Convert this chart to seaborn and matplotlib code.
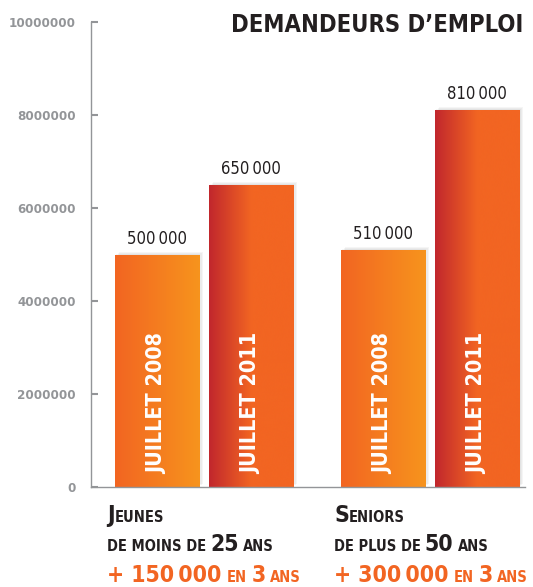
import matplotlib
matplotlib.use("Agg")
import numpy as np
import pandas as pd
import seaborn as sns
import matplotlib.pyplot as plt
from matplotlib import patheffects as pe
from matplotlib.colors import LinearSegmentedColormap

# ── Données ───────────────────────────────────────────────────
groupes = ["Jeunes", "Jeunes", "Seniors", "Seniors"]
periodes = ["JUILLET 2008", "JUILLET 2011", "JUILLET 2008", "JUILLET 2011"]
demandeurs = [500000, 650000, 510000, 810000]
etiquettes = ["500\u2009000", "650\u2009000", "510\u2009000", "810\u2009000"]

ytick_vals = [0, 200000, 400000, 600000, 800000, 1000000]
ytick_labels = ["0", "2000000", "4000000", "6000000", "8000000", "10000000"]

titre = "DEMANDEURS D\u2019EMPLOI"
# (texte, grand?, orange?, espace avant en px)
legende_jeunes = [
    [("J", True, False, 0), ("EUNES", False, False, 0)],
    [("DE MOINS DE", False, False, 0), ("25", True, False, 4), ("ANS", False, False, 4)],
    [("+ 150\u2009000", True, True, 0), ("EN", False, True, 5), ("3", True, True, 5), ("ANS", False, True, 4)],
]
legende_seniors = [
    [("S", True, False, 0), ("ENIORS", False, False, 0)],
    [("DE PLUS DE", False, False, 0), ("50", True, False, 4), ("ANS", False, False, 4)],
    [("+ 300\u2009000", True, True, 0), ("EN", False, True, 5), ("3", True, True, 5), ("ANS", False, True, 4)],
]

ORANGE = "#F26522"
JAUNE = "#F7941D"
ROUGE = "#C1272D"
NOIR = "#231F20"
GRIS = "#939598"

sns.set_style("white")
plt.rcParams["font.family"] = ["DejaVu Sans"]
plt.rcParams["font.stretch"] = "condensed"

W, H = 533, 587
fig = plt.figure(figsize=(W / 100, H / 100), dpi=100)
ax = fig.add_axes([91 / W, 100 / H, (525 - 91) / W, 465 / H])

df = pd.DataFrame({"groupe": groupes, "periode": periodes, "demandeurs": demandeurs})
sns.barplot(data=df, x="groupe", y="demandeurs", hue="periode",
            palette=[JAUNE, ORANGE], saturation=1, width=0.832, gap=0.106,
            legend=False, ax=ax, linewidth=0)

# ── Dégradés + ombre ──────────────────────────────────────────
cmaps = [
    LinearSegmentedColormap.from_list("g08", [ORANGE, JAUNE]),
    LinearSegmentedColormap.from_list("g11", [(0, ROUGE), (0.5, ORANGE), (1, ORANGE)]),
]
grad = np.linspace(0, 1, 256).reshape(1, -1)
shadow = [pe.SimplePatchShadow(offset=(k, k * 0.7), shadow_rgbFace="#808080", alpha=0.08)
          for k in (1, 2, 3)] + [pe.Normal()]

for i, cont in enumerate(ax.containers):
    for j, bar in enumerate(cont):
        bar.set_path_effects(shadow)
        x0, y0 = bar.get_x(), bar.get_y()
        im = ax.imshow(grad, extent=[x0, x0 + bar.get_width(), y0, y0 + bar.get_height()],
                       aspect="auto", cmap=cmaps[i], zorder=bar.get_zorder() + 0.1,
                       interpolation="bicubic")
        im.set_clip_path(bar)
        xc = x0 + bar.get_width() / 2
        ax.annotate(periodes[i], xy=(xc, 0), xytext=(0, 9), textcoords="offset points",
                    rotation=90, ha="center", va="bottom", color="white",
                    fontsize=15.5, fontweight="bold", zorder=5)
        k = 2 * j + i
        ax.annotate(etiquettes[k], xy=(xc, bar.get_height()), xytext=(0, 5),
                    textcoords="offset points", ha="center", va="bottom",
                    color=NOIR, fontsize=12, zorder=5)

ax.set_xlim(-0.5, 1.42)
ax.set_ylim(0, 1000000)

# ── Axes ──────────────────────────────────────────────────────
ax.set_xlabel("")
ax.set_ylabel("")
ax.set_xticks([])
ax.set_yticks(ytick_vals, ytick_labels)
for lbl in ax.get_yticklabels():
    lbl.set_fontweight("bold")
ax.tick_params(axis="y", direction="in", length=5, width=1.5, color=GRIS,
               labelcolor=GRIS, labelsize=9.5, pad=11, left=True)
sns.despine(ax=ax)
for s in ("left", "bottom"):
    ax.spines[s].set_color(GRIS)
    ax.spines[s].set_linewidth(1)

# ── Titre ─────────────────────────────────────────────────────
fig.text(523 / W, 1 - 32 / H, titre, ha="right", va="baseline",
         fontsize=17, fontweight="bold", color=NOIR)

# ── Légendes sous les barres ──────────────────────────────────
renderer = fig.canvas.get_renderer()


def rich_line(x_px, base_px, parts):
    x = x_px
    for txt, big, orange, gap in parts:
        x += gap
        t = fig.text(x / W, 1 - base_px / H, txt, ha="left", va="baseline",
                     fontsize=16.5 if big else 10.5, fontweight="bold",
                     color=ORANGE if orange else NOIR)
        x = t.get_window_extent(renderer).x1


for x_px, lignes in [(107, legende_jeunes), (334, legende_seniors)]:
    for base_px, parts in zip([522, 551, 582], lignes):
        rich_line(x_px, base_px, parts)

fig.savefig("out.png", dpi=100, facecolor="white")
